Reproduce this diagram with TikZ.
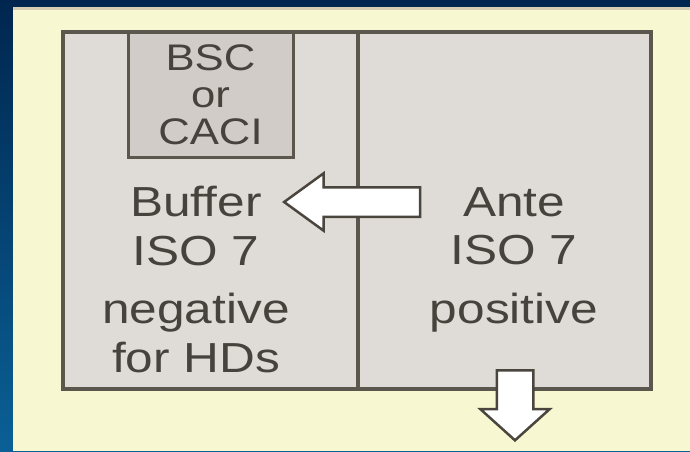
\documentclass[tikz,border=0pt]{standalone}
\usepackage{fontspec}
\setmainfont[FakeStretch=1.18]{Liberation Sans}
\usetikzlibrary{shapes.arrows,calc}

\definecolor{navy}{HTML}{00264F}
\definecolor{seablue}{HTML}{0A6096}
\definecolor{cream}{HTML}{F7F7D2}
\definecolor{tanstrip}{HTML}{D6CDB2}
\definecolor{roomgray}{HTML}{DFDBD7}
\definecolor{cabgray}{HTML}{D2CCC8}
\definecolor{wallgray}{HTML}{5C574D}
\definecolor{inkgray}{HTML}{46423C}

\begin{document}
\begin{tikzpicture}[x=1pt,y=-1pt,
    wall/.style={draw=wallgray,line width=4pt},
    cabinet/.style={rectangle,draw=wallgray,fill=cabgray,line width=3pt,minimum width=165pt,minimum height=125pt,align=center,text=inkgray,font=\fontsize{37}{37}\selectfont},
    label/.style={align=center,text=inkgray,inner sep=0pt,font=\fontsize{42}{48.5}\selectfont},
    flow/.style={single arrow,draw=wallgray!80!black,fill=white,line width=2.5pt}
]
    % Backdrop
    \shade[top color=navy,bottom color=seablue] (0,0) rectangle (690,451);
    \fill[cream] (13,7) rectangle (690,451);
    \fill[tanstrip] (13,7) rectangle (690,10);
    \useasboundingbox (0,0) rectangle (690,451);

    % Rooms
    \filldraw[wall,fill=roomgray] (63,32) rectangle (651,389);
    \draw[wall] (358,32) -- (358,389);
    \node[cabinet] (bsc) at (210.5,94.5) {BSC\\or\\CACI};

    % Labels (base = last line)
    \node[label,anchor=base] (buffer) at (196,372) {Buffer\\ISO 7\\[10pt]negative\\for HDs};
    \node[label,anchor=base] (ante) at (514,323) {Ante\\ISO 7\\[10pt]positive};

    % Arrows
    \node[flow,inner sep=13.5pt,shape border rotate=180,minimum height=136pt,single arrow head extend=14pt,single arrow tip angle=72,anchor=tip] (toBuffer) at (282,202) {};
    \node[flow,inner sep=17pt,shape border rotate=270,minimum height=70pt,single arrow head extend=16.5pt,single arrow tip angle=96,anchor=tip] (exit) at (515,442) {};
\end{tikzpicture}
\end{document}
